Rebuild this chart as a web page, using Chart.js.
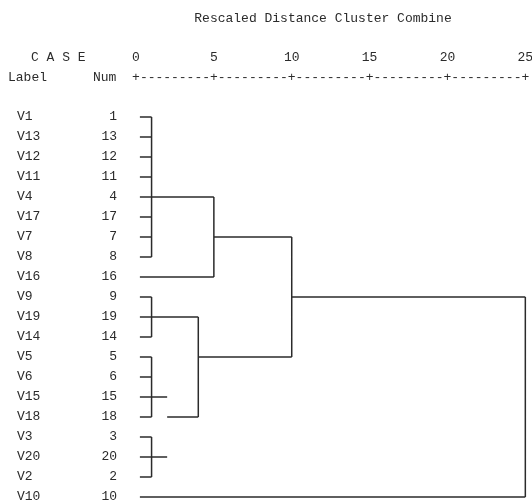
<!DOCTYPE html>
<html>
<head>
<meta charset="utf-8">
<script src="https://cdn.jsdelivr.net/npm/chart.js@4/dist/chart.umd.min.js"></script>
<style>
    body { margin: 0; background: #fff; }
    #wrap { width: 532px; height: 501px; }
</style>
</head>
<body>
<div id="wrap"><canvas id="chart" width="532" height="501"></canvas></div>
<script>
// cases in dendrogram order
const caseLabels = ["V1", "V13", "V12", "V11", "V4", "V17", "V7", "V8", "V16", "V9",
                    "V19", "V14", "V5", "V6", "V15", "V18", "V3", "V20", "V2", "V10"];
const caseNums = [1, 13, 12, 11, 4, 17, 7, 8, 16, 9, 19, 14, 5, 6, 15, 18, 3, 20, 2, 10];

// rescaled distance where each leaf line ends
const leafStart = 0.25;
const leafEnd = [1, 1, 1, 1, 1, 1, 1, 1, 5, 1, 1, 1, 1, 1, 1, 1, 1, 1, 1, 25];

// horizontal links between clusters: row, from distance, to distance
const linkRow  = [4, 6, 9, 10, 12, 14, 15, 17];
const linkFrom = [1, 5, 10, 1, 4, 1, 2, 1];
const linkTo   = [5, 10, 25, 4, 10, 2, 4, 2];

// vertical joins: distance, first row, last row
const joinDist   = [1, 5, 10, 25, 1, 4, 1, 1];
const joinTop    = [0, 4, 6, 9, 9, 10, 12, 16];
const joinBottom = [7, 8, 12, 19, 11, 15, 15, 18];

const xTicks = [0, 5, 10, 15, 20, 25];

const FONT = "Liberation Mono";
const INK = "#2b2b2b";

const gap = { x: NaN, y: NaN };
const lines = [];
caseLabels.forEach((_, i) => {
    lines.push({ x: leafStart, y: i }, { x: leafEnd[i], y: i }, gap);
});
linkRow.forEach((r, i) => {
    lines.push({ x: linkFrom[i], y: r }, { x: linkTo[i], y: r }, gap);
});
joinDist.forEach((d, i) => {
    lines.push({ x: d, y: joinTop[i] }, { x: d, y: joinBottom[i] }, gap);
});

// no extra room for the end labels
function noPadding(axis) {
    axis.paddingLeft = 0;
    axis.paddingRight = 0;
    axis.paddingTop = 0;
    axis.paddingBottom = 0;
}

// header text of the SPSS output
const headerPlugin = {
    id: "header",
    afterDraw(chart) {
        const ctx = chart.ctx;
        const xs = chart.scales.x;
        ctx.save();
        ctx.fillStyle = INK;
        ctx.font = "13px '" + FONT + "'";
        ctx.textBaseline = "middle";
        ctx.textAlign = "center";
        ctx.fillText("Rescaled Distance Cluster Combine", 323, 19);
        ctx.textAlign = "left";
        ctx.fillText("C A S E", 31, 58);
        ctx.fillText("Label", 8, 78);
        ctx.fillText("Num", 93, 78);
        // ruler: one character per half unit
        ctx.textAlign = "center";
        for (let i = 0; i <= 50; i++) {
            const ch = i % 10 === 0 ? "+" : "-";
            ctx.fillText(ch, xs.getPixelForValue(i / 2), 78);
        }
        ctx.restore();
    }
};

const rowAxis = (weight, labels, align, padding, width) => ({
    type: "linear",
    position: "left",
    weight: weight,
    reverse: true,
    min: -2,
    max: 19.2,
    grid: { display: false, drawTicks: false },
    border: { display: false },
    afterBuildTicks: axis => {
        axis.ticks = labels.map((_, i) => ({ value: i }));
    },
    afterFit: axis => {
        axis.width = width;
        noPadding(axis);
    },
    ticks: {
        autoSkip: false,
        crossAlign: align,
        padding: padding,
        color: INK,
        font: { family: FONT, size: 13 },
        callback: v => String(labels[v])
    }
});

new Chart(document.getElementById("chart"), {
    type: "line",
    data: {
        datasets: [{
            data: lines,
            borderColor: INK,
            borderWidth: 1.5,
            pointRadius: 0,
            spanGaps: false,
            tension: 0,
            yAxisID: "y"
        }]
    },
    options: {
        responsive: false,
        animation: false,
        devicePixelRatio: 1,
        layout: { padding: { left: 17, top: 37, right: 2, bottom: 0 } },
        plugins: {
            legend: { display: false },
            tooltip: { enabled: false }
        },
        scales: {
            x: {
                type: "linear",
                position: "top",
                min: 0,
                max: 25.3,
                grid: { display: false, drawTicks: false },
                border: { display: false },
                afterBuildTicks: axis => {
                    axis.ticks = xTicks.map(v => ({ value: v }));
                },
                afterFit: axis => {
                    axis.height = 40;
                    noPadding(axis);
                },
                ticks: {
                    padding: 12,
                    maxRotation: 0,
                    color: INK,
                    font: { family: FONT, size: 13 }
                }
            },
            y: rowAxis(2, caseLabels, "far", 0, 63),
            yNum: rowAxis(1, caseNums, "near", 19, 56)
        }
    },
    plugins: [headerPlugin]
});
</script>
</body>
</html>
